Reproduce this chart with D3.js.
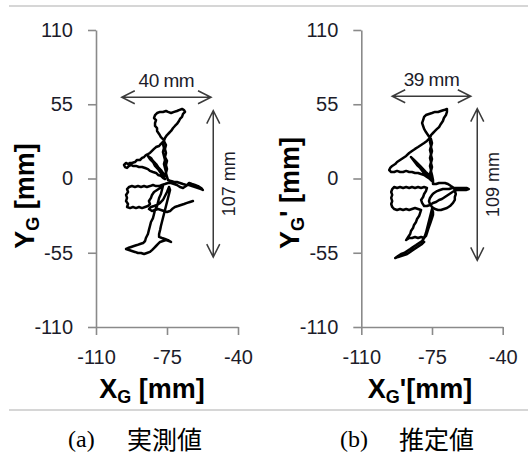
<!DOCTYPE html>
<html><head><meta charset="utf-8">
<script src="https://cdn.jsdelivr.net/npm/d3@7"></script>
<style>
body{margin:0;background:#fff;}
svg{display:block;}
</style></head><body>
<svg id="c" width="528" height="458"></svg>
<script>
// ---- data (mm): [X, Y] trajectory samples ----
const xTicks = [-110, -75, -40];
const yTicks = [110, 55, 0, -55, -110];

const measuredPath = [
 [-76.5,28.5],[-78.0,30.7],[-78.9,33.0],[-79.9,35.2],[-79.9,37.4],[-80.9,38.9],[-80.9,41.1],[-80.4,43.3],[-81.4,44.8],[-80.9,47.0],
 [-79.9,48.5],[-78.4,49.3],[-77.0,49.3],[-75.5,50.0],[-74.5,49.3],[-73.0,48.5],[-71.5,49.3],[-70.1,50.0],[-69.1,50.7],[-67.6,51.5],
 [-66.6,50.7],[-66.1,49.3],[-67.1,47.8],[-67.6,45.6],[-68.6,44.1],[-69.1,42.6],[-70.1,40.4],[-71.1,38.9],[-72.0,37.4],[-73.0,35.2],
 [-74.0,33.7],[-75.0,32.2],[-76.0,30.0],[-76.5,27.8],
 [-78.0,25.6],[-78.9,24.1],[-80.4,23.3],[-81.4,21.9],[-82.4,20.4],[-83.4,18.9],[-84.4,18.1],[-85.4,17.4],[-86.3,15.9],[-87.3,15.2],
 [-88.3,13.7],[-89.8,13.7],[-90.8,12.2],[-92.3,11.5],[-93.2,11.5],[-94.2,10.7],[-95.2,11.5],[-96.2,10.0],[-95.7,8.5],[-94.7,7.8],
 [-93.7,9.3],[-92.7,10.0],[-91.8,9.3],
 [-90.3,9.3],[-88.8,8.5],[-87.3,8.5],[-85.8,7.8],[-84.4,7.0],[-83.4,5.6],[-81.9,4.8],[-80.4,4.1],[-79.4,2.6],[-78.0,1.9],
 [-77.0,0.4],[-76.0,-0.4],
 [-77.0,1.9],[-78.4,4.8],[-79.4,7.0],[-80.9,9.3],[-81.9,12.2],[-83.4,14.4],[-84.4,16.7],[-82.9,15.2],[-81.9,13.0],[-80.4,10.7],
 [-79.4,8.5],[-78.0,6.3],[-77.0,4.1],[-76.0,1.9],
 [-75.5,4.8],[-76.0,7.8],[-76.5,10.7],[-76.0,13.7],[-76.5,16.7],[-77.0,19.6],[-76.5,22.6],[-77.0,25.6],[-76.5,27.8],[-75.5,24.8],
 [-76.0,21.9],[-75.5,18.9],[-76.0,15.9],[-75.0,13.0],[-75.5,10.0],[-75.0,7.0],[-75.5,4.1],[-75.0,1.1],[-74.5,-1.1],
 [-73.0,-1.9],[-71.5,-2.6],[-70.1,-2.6],[-68.6,-3.3],[-67.1,-4.1],[-65.6,-4.8],[-64.1,-4.8],[-62.7,-5.6],[-61.2,-6.3],[-59.7,-7.0],
 [-58.2,-7.8],[-57.3,-8.5],[-58.2,-7.0],[-59.7,-5.6],[-61.2,-4.8],[-62.7,-4.1],[-64.1,-3.3],[-65.6,-5.6],[-67.1,-7.0],[-68.6,-6.3],
 [-70.1,-4.8],[-71.5,-4.1],[-73.0,-3.3],[-74.5,-3.3],
 [-76.0,-4.1],[-77.5,-4.8],[-78.9,-5.6],[-80.4,-5.6],[-81.9,-4.8],[-83.4,-5.6],[-84.9,-6.3],[-86.3,-5.6],[-87.8,-6.3],[-89.3,-5.6],
 [-90.8,-6.3],[-92.3,-5.6],[-93.7,-6.3],[-94.7,-7.8],[-94.2,-10.0],[-95.2,-12.2],[-94.7,-14.4],[-95.2,-16.7],[-94.2,-18.9],[-94.7,-21.1],
 [-93.2,-21.9],[-91.8,-21.1],[-90.3,-21.9],[-88.8,-21.1],[-87.3,-21.9],[-85.8,-21.1],[-84.4,-20.4],[-83.4,-18.9],[-83.9,-16.7],[-82.9,-14.4],
 [-82.4,-12.2],[-81.4,-10.0],[-79.9,-8.5],[-78.4,-7.0],[-77.0,-5.6],
 [-77.5,-8.5],[-78.0,-11.5],[-78.9,-14.4],[-79.4,-17.4],[-79.9,-20.4],[-80.9,-23.3],[-81.4,-26.3],[-81.9,-29.3],[-82.9,-32.2],[-83.4,-35.2],
 [-83.9,-38.1],[-84.4,-41.1],[-85.4,-44.1],[-85.8,-46.3],[-86.8,-47.8],[-88.3,-48.5],[-89.8,-49.3],[-91.3,-50.0],[-92.7,-50.7],[-94.2,-51.5],
 [-95.2,-52.2],[-93.7,-53.0],[-92.3,-53.7],[-90.8,-54.4],[-89.3,-55.2],[-87.8,-55.2],[-86.3,-55.9],[-84.9,-55.2],[-83.4,-54.4],[-82.4,-53.0],
 [-81.4,-51.5],[-80.4,-50.0],[-79.4,-48.5],[-78.4,-47.0],[-77.0,-46.3],[-75.5,-45.6],[-74.0,-46.3],[-73.0,-47.0],[-74.5,-45.6],[-76.0,-44.8],
 [-77.5,-44.1],[-78.9,-43.3],
 [-78.9,-41.1],[-78.4,-38.1],[-78.0,-35.2],[-77.5,-32.2],[-77.0,-29.3],[-76.5,-26.3],[-76.0,-23.3],[-75.5,-20.4],[-75.0,-17.4],[-74.5,-14.4],
 [-74.0,-11.5],[-73.5,-8.5],[-74.0,-6.3],
 [-75.0,-10.0],[-76.0,-13.0],[-77.0,-15.9],[-78.4,-18.1],[-79.9,-19.6],[-81.4,-20.4],[-82.9,-21.1],[-83.9,-22.6],[-82.4,-24.1],[-80.9,-23.3],
 [-79.4,-22.6],[-78.0,-23.3],[-76.5,-24.1],[-75.0,-24.8],[-73.5,-24.1],[-72.5,-22.6],[-71.1,-21.1],[-69.6,-20.4],[-68.1,-19.6],[-66.6,-18.9],
 [-65.1,-18.1],[-63.7,-17.4],[-62.2,-16.7]
];

const estimatedPath = [
 [-76.0,30.0],[-77.0,32.2],[-78.0,34.4],[-78.9,36.7],[-79.4,38.9],[-79.9,41.1],[-79.4,43.3],[-78.9,45.6],[-78.0,47.0],[-76.5,47.8],
 [-75.0,48.5],[-73.5,49.3],[-72.0,49.3],[-70.6,50.0],[-69.1,50.7],[-67.6,51.5],[-67.6,49.3],[-68.1,47.0],[-69.1,44.8],[-69.6,42.6],
 [-70.6,40.4],[-71.5,38.1],[-72.5,36.7],[-73.5,35.2],[-74.5,33.7],[-75.5,32.2],[-76.0,30.0],
 [-77.5,27.8],[-78.9,26.3],[-80.4,24.8],[-81.9,23.3],[-83.4,21.9],[-84.9,20.4],[-86.3,18.9],[-87.8,16.7],[-89.3,15.2],[-90.8,13.7],
 [-92.3,12.2],[-93.2,10.7],[-94.7,9.3],[-95.7,7.8],[-96.2,6.3],[-95.2,4.8],
 [-93.7,4.8],[-92.3,5.6],[-90.8,4.8],[-89.3,4.8],[-87.8,5.6],[-86.3,4.8],[-84.9,4.8],[-83.4,4.1],[-81.9,4.1],[-80.4,3.3],
 [-78.9,2.6],[-77.5,1.1],[-76.0,-0.4],[-75.0,-1.9],
 [-76.5,0.4],[-78.0,2.6],[-79.4,4.8],[-80.9,7.8],[-82.4,10.0],[-83.9,13.0],[-85.4,15.9],[-83.9,13.7],[-82.4,11.5],[-80.9,9.3],
 [-79.4,7.0],[-78.0,4.8],[-76.5,2.6],[-75.5,0.4],
 [-76.0,3.3],[-75.5,6.3],[-76.0,9.3],[-75.5,12.2],[-76.0,15.2],[-75.5,18.1],[-76.0,21.1],[-75.5,24.1],[-76.0,27.0],[-75.5,29.3],
 [-75.0,26.3],[-75.5,23.3],[-75.0,20.4],[-75.5,17.4],[-75.0,14.4],[-75.5,11.5],[-75.0,8.5],[-75.5,5.6],[-75.0,2.6],[-74.5,-1.1],
 [-74.5,-4.1],
 [-73.0,-4.1],[-71.5,-3.3],[-70.1,-3.3],[-68.6,-3.3],[-67.1,-4.1],[-65.6,-5.6],[-64.1,-7.0],[-63.7,-9.3],[-63.2,-11.5],[-63.7,-13.7],
 [-63.7,-15.9],[-64.6,-18.1],[-66.1,-20.4],[-67.6,-21.9],[-69.1,-22.6],[-70.6,-23.3],[-72.0,-23.3],[-73.5,-22.6],[-75.0,-21.1],[-76.0,-18.9],
 [-76.5,-16.7],[-76.0,-14.4],[-75.0,-12.2],[-74.0,-10.7],[-72.5,-9.3],[-71.1,-8.5],[-69.6,-7.8],[-68.1,-7.8],[-66.6,-7.8],[-65.1,-7.0],
 [-63.7,-7.0],[-62.2,-7.0],[-60.7,-7.0],[-59.2,-7.0],[-57.7,-7.0],[-56.8,-7.8],[-58.2,-8.5],[-59.7,-8.5],[-61.2,-8.5],[-62.7,-8.5],
 [-64.1,-9.3],[-65.6,-10.7],[-67.1,-12.2],[-68.6,-13.7],[-70.1,-15.2],[-71.5,-15.9],[-73.0,-17.4],[-74.5,-18.1],[-76.0,-19.6],[-77.5,-20.4],
 [-78.9,-20.4],
 [-79.9,-18.1],[-80.4,-15.9],[-79.4,-13.7],[-78.9,-11.5],[-78.0,-9.3],[-77.5,-7.0],[-78.9,-6.3],[-80.4,-7.0],[-81.9,-6.3],[-83.4,-7.0],
 [-84.9,-6.3],[-86.3,-7.0],[-87.8,-6.3],[-89.3,-7.0],[-90.8,-6.3],[-92.3,-7.0],[-93.7,-6.3],[-94.7,-7.8],[-95.2,-10.0],[-94.7,-12.2],
 [-95.2,-14.4],[-94.7,-16.7],[-95.2,-18.9],[-94.7,-21.1],[-93.7,-22.6],[-92.3,-23.3],[-90.8,-22.6],[-89.3,-23.3],[-87.8,-22.6],[-86.3,-23.3],
 [-84.9,-22.6],[-83.4,-21.9],[-81.9,-22.6],[-80.4,-23.3],
 [-80.9,-25.6],[-81.4,-27.8],[-82.4,-30.0],[-82.9,-32.2],[-83.9,-34.4],[-84.4,-36.7],[-85.4,-38.9],[-85.8,-41.1],[-86.8,-43.3],[-87.8,-45.6],
 [-86.3,-44.1],[-84.9,-44.1],[-83.4,-43.3],[-81.9,-44.1],[-80.4,-43.3],[-78.9,-44.1],[-78.0,-42.6],[-77.5,-40.4],[-77.0,-38.1],[-76.5,-35.9],
 [-76.0,-33.7],[-75.5,-31.5],[-75.0,-29.3],[-74.5,-27.0],[-74.5,-24.8],[-75.0,-22.6],
 [-75.5,-25.6],[-76.0,-28.5],[-76.5,-31.5],[-77.0,-34.4],[-77.5,-37.4],[-78.0,-40.4],[-78.9,-44.1],[-79.9,-46.3],[-81.4,-47.8],[-82.9,-49.3],
 [-84.4,-50.7],[-85.8,-52.2],[-87.3,-53.7],[-88.8,-55.2],[-90.3,-55.9],[-91.8,-57.4],[-93.2,-58.9],[-91.8,-58.1],[-90.3,-57.4],[-88.8,-56.7],
 [-87.3,-55.9],[-85.8,-54.4],[-84.4,-53.0],[-82.9,-51.5],[-81.4,-50.0],[-79.9,-48.5],[-78.9,-47.0]
];

const panelLetters = ["(a)", "(b)"];
const panelNames = ["実測値", "推定値"];
const widthLabels = ["40 mm", "39 mm"];
const heightLabels = ["107 mm", "109 mm"];
const primes = ["", "'"];
// annotation extents (mm): [xStart, xEnd, yLevel] and [xLevel, yTop, yBottom]
const widthSpans = [[-97.3, -53.3, 60.2], [-94.7, -55.8, 60.9]];
const heightSpans = [[-52.2, 50.3, -58.2], [-52.6, 51.8, -60.7]];

// ---- drawing ----
const svg = d3.select("#c");
const font = "'Liberation Sans', Arial, sans-serif";

svg.append("line").attr("x1",9).attr("x2",528).attr("y1",6).attr("y2",6)
  .attr("stroke","#c8c8c8").attr("stroke-width",1.5);
svg.append("line").attr("x1",9).attr("x2",528).attr("y1",410).attr("y2",410)
  .attr("stroke","#c8c8c8").attr("stroke-width",1.5);

const panels = [
  {x0:96, x1:238, path:measuredPath, titleX:152, yTitleX:34, yTitleY:196, capX:68, capNameX:127},
  {x0:361.3, x1:502.7, path:estimatedPath, titleX:420, yTitleX:299, yTitleY:193, capX:340, capNameX:399}
];

panels.forEach((p, i) => {
  const x = d3.scaleLinear().domain([-110,-40]).range([p.x0, p.x1]);
  const y = d3.scaleLinear().domain([-110,110]).range([327,30]);
  const g = svg.append("g");

  const ax = g.append("g").attr("transform",`translate(0,${y(-110)})`)
    .call(d3.axisBottom(x).tickValues(xTicks).tickFormat(d => String(d))
      .tickSize(8).tickSizeOuter(0).tickPadding(15));
  const ay = g.append("g").attr("transform",`translate(${x(-110)},0)`)
    .call(d3.axisLeft(y).tickValues(yTicks).tickFormat(d => String(d))
      .tickSize(8).tickSizeOuter(0).tickPadding(15));
  [ax, ay].forEach(a => {
    a.select(".domain").attr("stroke","#8a8a8a").attr("stroke-width",1.6);
    a.selectAll(".tick line").attr("stroke","#8a8a8a").attr("stroke-width",1.6);
    a.selectAll(".tick text").attr("fill","#1c1c2a").attr("font-family",font)
      .attr("font-size",20);
  });

  // trajectory
  g.append("path").datum(p.path)
    .attr("d", d3.line().x(d=>x(d[0])).y(d=>y(d[1])))
    .attr("fill","none").attr("stroke","#000").attr("stroke-width",2.5)
    .attr("stroke-linejoin","round").attr("stroke-linecap","round");

  // width arrow
  const ac = "#3a3a3a";
  const ws = widthSpans[i];
  const ax1 = x(ws[0]), ax2 = x(ws[1]), ayy = y(ws[2]);
  const hl = 13, hw = 6.5;
  g.append("path")
    .attr("d", `M${ax1},${ayy}H${ax2}M${ax1+hl},${ayy-hw}L${ax1},${ayy}L${ax1+hl},${ayy+hw}M${ax2-hl},${ayy-hw}L${ax2},${ayy}L${ax2-hl},${ayy+hw}`)
    .attr("fill","none").attr("stroke",ac).attr("stroke-width",1.5);
  g.append("text").attr("x",(ax1+ax2)/2).attr("y",ayy-10).attr("text-anchor","middle")
    .attr("font-family",font).attr("font-size",19).attr("fill","#1c1c2a")
    .attr("letter-spacing",-0.5).text(widthLabels[i]);

  // height arrow
  const hs = heightSpans[i];
  const vx = x(hs[0]), vy1 = y(hs[1]), vy2 = y(hs[2]);
  g.append("path")
    .attr("d", `M${vx},${vy1}V${vy2}M${vx-hw},${vy1+hl}L${vx},${vy1}L${vx+hw},${vy1+hl}M${vx-hw},${vy2-hl}L${vx},${vy2}L${vx+hw},${vy2-hl}`)
    .attr("fill","none").attr("stroke",ac).attr("stroke-width",1.5);
  g.append("text").attr("transform",`translate(${vx+22},${(vy1+vy2)/2}) rotate(-90)`)
    .attr("text-anchor","middle").attr("font-family",font).attr("font-size",18)
    .attr("fill","#1c1c2a").text(heightLabels[i]);

  // x title
  const xt = g.append("text").attr("x",p.titleX).attr("y",398).attr("text-anchor","middle")
    .attr("font-family",font).attr("font-weight","bold").attr("font-size",27).attr("fill","#000");
  xt.append("tspan").text("X");
  xt.append("tspan").attr("font-size",18).attr("dy",5).text("G");
  xt.append("tspan").attr("dy",-5).text(primes[i] ? "'[mm]" : " [mm]");

  // y title
  const yt = g.append("text").attr("transform",`translate(${p.yTitleX},${p.yTitleY}) rotate(-90)`)
    .attr("text-anchor","middle").attr("font-family",font).attr("font-weight","bold")
    .attr("font-size",27).attr("fill","#000");
  yt.append("tspan").text("Y");
  yt.append("tspan").attr("font-size",18).attr("dy",5).text("G");
  yt.append("tspan").attr("dy",-5).text(primes[i] ? "' [mm]" : " [mm]");

  // caption
  svg.append("text").attr("x",p.capX).attr("y",447)
    .attr("font-family","'Liberation Serif', serif").attr("font-size",24).attr("fill","#000")
    .text(panelLetters[i]);
  svg.append("text").attr("x",p.capNameX).attr("y",449)
    .attr("font-family","'Noto Sans CJK JP', sans-serif").attr("font-size",25).attr("fill","#000")
    .text(panelNames[i]);
});
</script>
</body></html>
